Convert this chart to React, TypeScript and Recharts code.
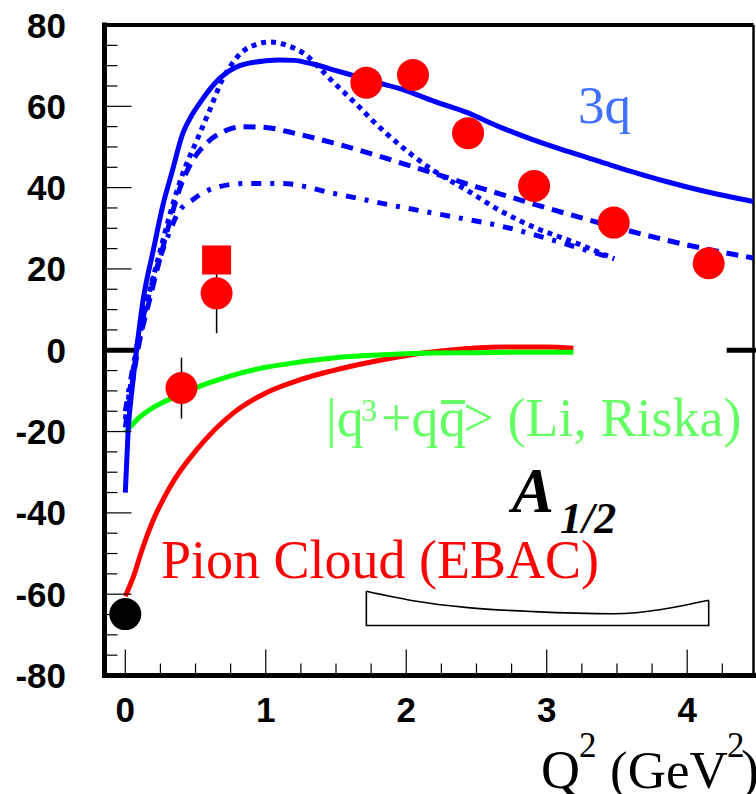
import React from 'react';
import { ComposedChart, Line, Scatter, XAxis, YAxis, ReferenceLine, ErrorBar } from 'recharts';

// ---- Model curves: Q^2 (GeV^2) and A_1/2 (10^-3 GeV^-1/2) ----
const solidQ2 = [0, 0.02, 0.05, 0.08, 0.127, 0.2, 0.27, 0.33, 0.41, 0.47, 0.53, 0.67, 0.815, 1.0, 1.1, 1.2, 1.335, 1.5, 1.62, 1.8, 1.96, 2.2, 2.43, 2.66, 2.9, 3.15, 3.38, 3.6, 3.85, 4.1, 4.47];
const solidA = [-35, -20, -9, 0, 12.4, 24.7, 36, 43.5, 53.4, 57.6, 60.8, 66.8, 70, 71.2, 71.4, 71.3, 70.4, 68.8, 67.6, 65.8, 64.3, 61.2, 58.5, 55, 51.8, 48.9, 46.4, 44, 41.5, 39.3, 36.6];

const dottedQ2 = [0, 0.05, 0.1, 0.17, 0.245, 0.32, 0.41, 0.51, 0.6, 0.69, 0.76, 0.84, 0.93, 1.03, 1.15, 1.29, 1.38, 1.48, 1.57, 1.67, 1.76, 1.86, 2.02, 2.19, 2.43, 2.66, 2.9, 3.2, 3.48];
const dottedA = [-17, -6, 3, 14, 24, 33.7, 43.5, 51.7, 59, 66.5, 70.5, 73.6, 75.2, 75.8, 75, 72.5, 69.5, 66, 63, 59.7, 56.5, 53.3, 48.6, 44.3, 39.4, 34.5, 30.4, 26.5, 22.5];

const dashedQ2 = [0, 0.05, 0.1, 0.17, 0.25, 0.32, 0.39, 0.46, 0.58, 0.7, 0.84, 1.0, 1.2, 1.48, 1.8, 2.19, 2.5, 2.74, 3.0, 3.38, 3.8, 4.15, 4.47];
const dashedA = [-19, -8, 2, 12, 23, 32, 40, 45.5, 51, 53.8, 55, 54.8, 53.4, 51, 47.8, 43.6, 40.2, 37.7, 35, 31.3, 27.5, 24.8, 22.7];

const dashDotQ2 = [0, 0.05, 0.1, 0.17, 0.25, 0.32, 0.37, 0.48, 0.6, 0.84, 1.12, 1.48, 1.95, 2.26, 2.74, 3.1, 3.48];
const dashDotA = [-15, -5, 4, 14, 23, 29.5, 33.5, 37, 39.5, 41, 41, 38.6, 35.3, 33.3, 30, 26.5, 22.5];

const liRiskaQ2 = [0, 0.05, 0.1, 0.175, 0.28, 0.4, 0.52, 0.65, 0.8, 1.0, 1.24, 1.48, 1.72, 1.95, 2.19, 2.5, 2.8, 3.19];
const liRiskaA = [-20.3, -18.3, -16.5, -14.6, -12.6, -10.9, -9, -7.4, -5.8, -4.2, -2.9, -1.9, -1.3, -0.9, -0.7, -0.6, -0.5, -0.5];

const pionQ2 = [0, 0.06, 0.12, 0.19, 0.32, 0.51, 0.77, 1.0, 1.24, 1.6, 1.95, 2.07, 2.3, 2.67, 3.0, 3.19];
const pionA = [-60.5, -55.5, -49, -42.5, -33.5, -24.4, -15.4, -10.5, -7.3, -4, -1.6, -0.9, 0, 0.8, 0.8, 0.5];

// ---- Measurements ----
const dataQ2 = [0.4, 0.65, 1.716, 2.048, 2.44, 2.91, 3.477, 4.153];
const dataA = [-9.3, 14.0, 65.8, 67.7, 53.4, 40.4, 31.4, 21.4];
const dataErr = [7.5, 9.8, 1, 1, 1, 1, 1, 1];

const squareQ2 = [0.65];
const squareA = [22.2];

const photonQ2 = [0];
const photonA = [-64.9];

// Model uncertainty band: curved upper edge, flat lower edge
const bandQ2 = [1.716, 2.048, 2.44, 2.91, 3.477, 4.153];
const bandTop = [-59.3, -61.6, -63.3, -64.3, -64.8, -61.5];
const bandBottom = -67.7;

// ---- Axis ticks ----
const xTicks = [0, 0.25, 0.5, 0.75, 1, 1.25, 1.5, 1.75, 2, 2.25, 2.5, 2.75, 3, 3.25, 3.5, 3.75, 4, 4.25];
const yTicks = [-80, -75, -70, -65, -60, -55, -50, -45, -40, -35, -30, -25, -20, -15, -10, -5, 0, 5, 10, 15, 20, 25, 30, 35, 40, 45, 50, 55, 60, 65, 70, 75, 80];
const xMajor = [0, 1, 2, 3, 4];
const yMajor = [-80, -60, -40, -20, 0, 20, 40, 60, 80];

const X_DOMAIN: [number, number] = [-0.148, 4.472];
const Y_DOMAIN: [number, number] = [-80, 80];

const zip = (xs: number[], ys: number[]) => xs.map((x, i) => ({ x, y: ys[i] }));

const solid = zip(solidQ2, solidA);
const dotted = zip(dottedQ2, dottedA);
const dashed = zip(dashedQ2, dashedA);
const dashDot = zip(dashDotQ2, dashDotA);
const liRiska = zip(liRiskaQ2, liRiskaA);
const pion = zip(pionQ2, pionA);
const points = dataQ2.map((x, i) => ({ x, y: dataA[i], err: dataErr[i] }));
const squares = zip(squareQ2, squareA);
const photon = zip(photonQ2, photonA);
const bandUpper = zip(bandQ2, bandTop);
const last = bandQ2.length - 1;
const bandOutline = [
  { x: bandQ2[0], y: bandTop[0] },
  { x: bandQ2[0], y: bandBottom },
  { x: bandQ2[last], y: bandBottom },
  { x: bandQ2[last], y: bandTop[last] },
];

const SANS = '"Liberation Sans", Arial, Helvetica, sans-serif';
const SERIF = '"Liberation Serif", "Times New Roman", Times, serif';
const BLUE = '#0000ff';

const XTick = (props: any) => {
  const { x, y, payload } = props;
  const v = payload.value as number;
  const major = xMajor.includes(v);
  return (
    <g>
      <line x1={x} x2={x} y1={y} y2={y - (major ? 26 : 12)} stroke="#000" strokeWidth={1.2} />
      {major && (
        <text x={x} y={y + 46} textAnchor="middle" fontFamily={SANS} fontWeight={700} fontSize={35} fill="#000">
          {v}
        </text>
      )}
    </g>
  );
};

const YTick = (props: any) => {
  const { x, y, payload } = props;
  const v = payload.value as number;
  const major = yMajor.includes(v);
  return (
    <g>
      <line x1={x} x2={x + (major ? 27 : 13)} y1={y} y2={y} stroke="#000" strokeWidth={1.2} />
      {major && (
        <text x={x - 38.5} y={y + 12.5} textAnchor="end" fontFamily={SANS} fontWeight={700} fontSize={35} fill="#000">
          {v}
        </text>
      )}
    </g>
  );
};

const Dot = (fill: string, r: number) => (props: any) => {
  const { cx, cy } = props;
  return <circle cx={cx} cy={cy} r={r} fill={fill} />;
};

const Square = (props: any) => {
  const { cx, cy } = props;
  return <rect x={cx - 14.5} y={cy - 14.5} width={29} height={29} fill="#ff0000" />;
};

export default function App() {
  return (
    <div style={{ position: 'absolute', left: 0, top: 0, width: 756, height: 794, background: '#fff' }}>
      <ComposedChart width={756} height={794} margin={{ top: 25, right: 2.5, bottom: 68.5, left: 0 }}>
        <XAxis
          type="number"
          dataKey="x"
          domain={X_DOMAIN}
          allowDataOverflow
          ticks={xTicks}
          interval={0}
          tick={<XTick />}
          tickLine={false}
          tickSize={0}
          tickMargin={0}
          height={50}
          axisLine={{ stroke: '#000', strokeWidth: 5, strokeLinecap: 'square' }}
        />
        <YAxis
          type="number"
          dataKey="y"
          domain={Y_DOMAIN}
          allowDataOverflow
          ticks={yTicks}
          interval={0}
          tick={<YTick />}
          tickLine={false}
          tickSize={0}
          tickMargin={0}
          width={104.5}
          axisLine={{ stroke: '#000', strokeWidth: 5, strokeLinecap: 'square' }}
        />
        <ReferenceLine y={80} stroke="#000" strokeWidth={4} />
        <ReferenceLine x={X_DOMAIN[1]} stroke="#000" strokeWidth={2.5} />
        <ReferenceLine segment={[{ x: X_DOMAIN[0], y: 0 }, { x: 0.067, y: 0 }]} stroke="#000" strokeWidth={5} ifOverflow="visible" />
        <ReferenceLine segment={[{ x: 4.281, y: 0 }, { x: 4.49, y: 0 }]} stroke="#000" strokeWidth={5} ifOverflow="visible" />

        <Line data={bandOutline} dataKey="y" type="linear" stroke="#000" strokeWidth={1.6} dot={false} isAnimationActive={false} />
        <Line data={bandUpper} dataKey="y" type="monotone" stroke="#000" strokeWidth={1.6} dot={false} isAnimationActive={false} />

        <Line data={pion} dataKey="y" type="monotone" stroke="#ff0000" strokeWidth={5} dot={false} isAnimationActive={false} />
        <Line data={liRiska} dataKey="y" type="monotone" stroke="#00ff00" strokeWidth={5} dot={false} isAnimationActive={false} />

        <Line data={dashDot} dataKey="y" type="monotone" stroke={BLUE} strokeWidth={5} strokeDasharray="10 9 4 9" dot={false} isAnimationActive={false} />
        <Line data={dashed} dataKey="y" type="monotone" stroke={BLUE} strokeWidth={5} strokeDasharray="12 8" dot={false} isAnimationActive={false} />
        <Line data={dotted} dataKey="y" type="monotone" stroke={BLUE} strokeWidth={5} strokeDasharray="5 5" dot={false} isAnimationActive={false} />
        <Line data={solid} dataKey="y" type="monotone" stroke={BLUE} strokeWidth={5} dot={false} isAnimationActive={false} />

        <Scatter data={squares} dataKey="y" shape={Square} isAnimationActive={false} />
        <Scatter data={points} dataKey="y" shape={Dot('#ff0000', 16)} isAnimationActive={false}>
          <ErrorBar dataKey="err" direction="y" width={0} stroke="#000" strokeWidth={1.5} />
        </Scatter>
        <Scatter data={photon} dataKey="y" shape={Dot('#000000', 16)} isAnimationActive={false} />
      </ComposedChart>

      <svg width={756} height={794} style={{ position: 'absolute', left: 0, top: 0, pointerEvents: 'none' }}>
        <text x={578} y={123} fontFamily={SERIF} fontSize={53} fill="#4070ff">3q</text>

        <text y={436} fontFamily={SERIF} fontSize={54} fill="#66ff66">
          <tspan x={326}>|q</tspan>
          <tspan x={361} y={421} fontSize={32}>3</tspan>
          <tspan x={381} y={436}>+q</tspan>
          <tspan x={439}>q</tspan>
          <tspan x={463.5}>{'> (Li, Riska)'}</tspan>
        </text>
        <line x1={441} x2={465} y1={402} y2={402} stroke="#66ff66" strokeWidth={4} />

        <text x={161} y={578} fontFamily={SERIF} fontSize={54} fill="#ff0000">Pion Cloud (EBAC)</text>

        <text x={512} y={512} fontFamily={SERIF} fontStyle="italic" fontWeight={700} fontSize={63} fill="#000">A</text>
        <text x={560} y={533} fontFamily={SERIF} fontStyle="italic" fontWeight={700} fontSize={44} fill="#000">1/2</text>

        <text y={788} fontFamily={SERIF} fontSize={54} fill="#000">
          <tspan x={541}>Q</tspan>
          <tspan x={579} y={757} fontSize={35}>2</tspan>
          <tspan x={610} y={788} fontSize={53}>(GeV</tspan>
          <tspan x={727} y={757} fontSize={35}>2</tspan>
          <tspan x={741} y={788}>)</tspan>
        </text>
      </svg>
    </div>
  );
}
